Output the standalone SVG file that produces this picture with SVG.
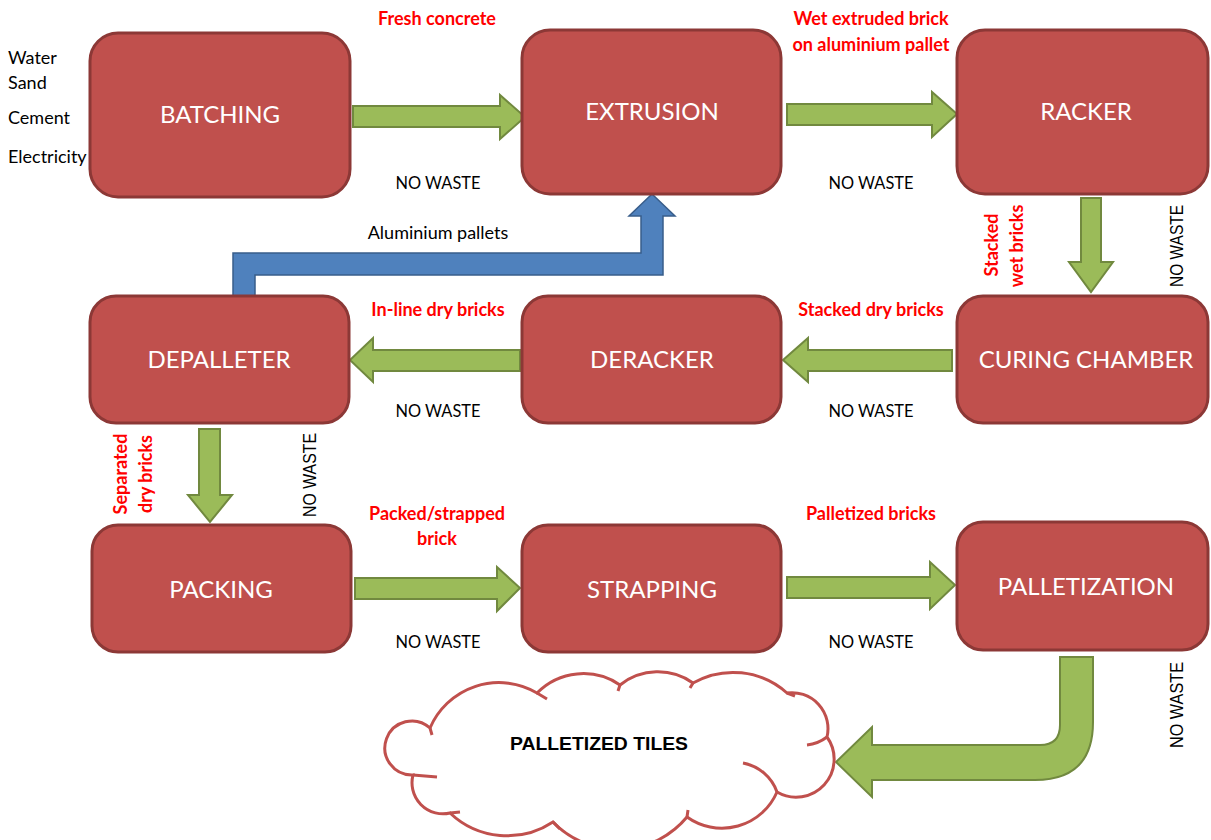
<svg xmlns="http://www.w3.org/2000/svg" width="1211" height="840" viewBox="0 0 1211 840">
<style>
.box{fill:#C0504D;stroke:#8C3836;stroke-width:3}
.bl{font-family:Lato,"Liberation Sans",sans-serif;font-size:24px;fill:#FFFFFF;text-anchor:middle}
.g{fill:#9BBB59;stroke:#71893F;stroke-width:2;stroke-linejoin:miter}
.b{fill:#4F81BD;stroke:#385D8A;stroke-width:1.5}
.red{font-family:Lato,"Liberation Sans",sans-serif;font-size:18px;font-weight:bold;fill:#FF0000;text-anchor:middle}
.blk{font-family:Lato,"Liberation Sans",sans-serif;font-size:18px;fill:#000000;text-anchor:middle}
.in{font-family:Lato,"Liberation Sans",sans-serif;font-size:18px;fill:#000000}
.vw{font-family:"Liberation Sans",Arial,sans-serif;font-size:18px;fill:#000000;text-anchor:middle}
.cloud{fill:#FFFFFF;stroke:#C0504D;stroke-width:3}
</style>
<rect width="1211" height="840" fill="#FFFFFF"/>

<g id="inputs">
<text class="in" x="8" y="64">Water</text>
<text class="in" x="8" y="89">Sand</text>
<text class="in" x="8" y="124">Cement</text>
<text class="in" x="8" y="163">Electricity</text>
</g>

<g id="connectors">
<polygon class="g" points="353,106 500,106 500,95 525,117 500,139 500,127 353,127"/>
<polygon class="g" points="787,104 932,104 932,92 957,114 932,137 932,125 787,125"/>
<polygon class="g" points="1081,198 1101,198 1101,262 1113,262 1091,292 1069,262 1081,262"/>
<polygon class="g" points="952,350 808,350 808,338 783,360 808,382 808,371 952,371"/>
<polygon class="g" points="520,350 373,350 373,338 350,360 373,382 373,371 520,371"/>
<polygon class="g" points="199,429 220,429 220,495 232,495 210,522 188,495 199,495"/>
<polygon class="g" points="355,578 497,578 497,567 520,588 497,611 497,599 355,599"/>
<polygon class="g" points="787,577 930,577 930,562 955,585 930,609 930,598 787,598"/>
<path class="g" d="M1060,657 L1093,657 L1093,722 Q1093,780 1035,780 L872,780 L872,797 L836,762 L872,727 L872,745 L1040,745 Q1060,745 1060,725 Z"/>
<polygon class="b" points="233,296 233,253 641,253 641,216 629,216 652,194 675,216 663,216 663,275 255,275 255,296"/>
</g>

<g id="batching"><rect class="box" x="90" y="33" width="260" height="164" rx="28"/><text class="bl" x="220" y="123">BATCHING</text></g>
<g id="extrusion"><rect class="box" x="522" y="30" width="259" height="164" rx="28"/><text class="bl" x="652" y="120">EXTRUSION</text></g>
<g id="racker"><rect class="box" x="957" y="30" width="251" height="164" rx="28"/><text class="bl" x="1086" y="120">RACKER</text></g>
<g id="depalleter"><rect class="box" x="90" y="296" width="259" height="127" rx="26"/><text class="bl" x="219" y="368">DEPALLETER</text></g>
<g id="deracker"><rect class="box" x="522" y="296" width="259" height="127" rx="26"/><text class="bl" x="652" y="368">DERACKER</text></g>
<g id="curing"><rect class="box" x="957" y="296" width="251" height="127" rx="26"/><text class="bl" x="1086" y="368">CURING CHAMBER</text></g>
<g id="packing"><rect class="box" x="92" y="525" width="259" height="127" rx="26"/><text class="bl" x="221" y="598">PACKING</text></g>
<g id="strapping"><rect class="box" x="522" y="525" width="259" height="127" rx="26"/><text class="bl" x="652" y="598">STRAPPING</text></g>
<g id="palletization"><rect class="box" x="957" y="522" width="251" height="128" rx="26"/><text class="bl" x="1086" y="595">PALLETIZATION</text></g>

<g id="tiles">
<path class="cloud" d="M413,775 A27,27 0 1 1 430,728 A75,75 0 0 1 537,693 A65,65 0 0 1 620,685 A61,61 0 0 1 693,683 A81,81 0 0 1 787,693 A36,36 0 0 1 827,737 A38,38 0 0 1 777,792 A60,60 0 0 1 687,817 A90,90 0 0 1 553,822 A83,83 0 0 1 450,813 A31,31 0 0 1 413,775 Z"/>
<path d="M430,728 L432,735 M537,693 L547,699 M620,685 L618,691 M693,683 L690,688 M787,693 L795,696 M807,745 A40,40 0 0 0 827,737 M743,763 A45,45 0 0 1 777,792 M687,817 L688,810 M553,822 L560,829 M450,813 L460,812 M413,775 L437,777" fill="none" stroke="#C0504D" stroke-width="3"/>
<text x="599" y="750" font-family="'Liberation Sans',Arial,sans-serif" font-size="19" font-weight="bold" fill="#000000" text-anchor="middle" textLength="178" lengthAdjust="spacingAndGlyphs">PALLETIZED TILES</text>
</g>

<g id="labels">
<text class="red" x="437" y="25">Fresh concrete</text>
<text class="red" x="871" y="25">Wet extruded brick</text>
<text class="red" x="871" y="51">on aluminium pallet</text>
<text class="red" x="871" y="316">Stacked dry bricks</text>
<text class="red" x="438" y="316">In-line dry bricks</text>
<text class="red" x="437" y="520">Packed/strapped</text>
<text class="red" x="437" y="545">brick</text>
<text class="red" x="871" y="520">Palletized bricks</text>
<text class="red" transform="translate(998,245) rotate(-90)">Stacked</text>
<text class="red" transform="translate(1023,246) rotate(-90)">wet bricks</text>
<text class="red" transform="translate(127,474) rotate(-90)">Separated</text>
<text class="red" transform="translate(152,474) rotate(-90)">dry bricks</text>
<text class="blk" x="438" y="189" textLength="85" lengthAdjust="spacingAndGlyphs">NO WASTE</text>
<text class="blk" x="871" y="189" textLength="85" lengthAdjust="spacingAndGlyphs">NO WASTE</text>
<text class="blk" x="438" y="417" textLength="85" lengthAdjust="spacingAndGlyphs">NO WASTE</text>
<text class="blk" x="871" y="417" textLength="85" lengthAdjust="spacingAndGlyphs">NO WASTE</text>
<text class="blk" x="438" y="648" textLength="85" lengthAdjust="spacingAndGlyphs">NO WASTE</text>
<text class="blk" x="871" y="648" textLength="85" lengthAdjust="spacingAndGlyphs">NO WASTE</text>
<text class="blk" x="438" y="239">Aluminium pallets</text>
<text class="vw" transform="translate(1183,246) rotate(-90)" textLength="82" lengthAdjust="spacingAndGlyphs">NO WASTE</text>
<text class="vw" transform="translate(316,475) rotate(-90)" textLength="84" lengthAdjust="spacingAndGlyphs">NO WASTE</text>
<text class="vw" transform="translate(1183,705) rotate(-90)" textLength="86" lengthAdjust="spacingAndGlyphs">NO WASTE</text>
</g>
</svg>
